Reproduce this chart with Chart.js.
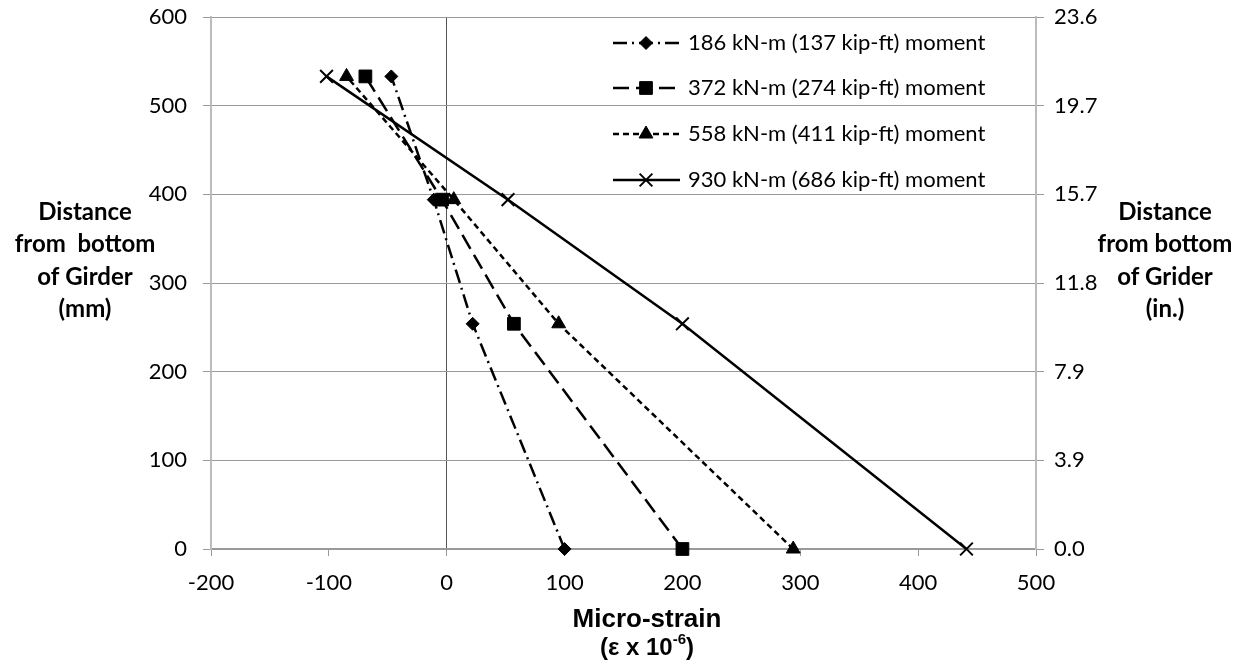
<!DOCTYPE html>
<html><head><meta charset="utf-8">
<script src="https://cdn.jsdelivr.net/npm/chart.js@4.4.0/dist/chart.umd.min.js"></script>
<style>html,body{margin:0;padding:0;background:#fff}#wrap{width:1247px;height:667px;position:relative}</style>
</head><body><div id="wrap"><canvas id="c" width="1247" height="667"></canvas></div>
<script>
// Strain profiles over the girder depth for four applied moments
const depthsMm = [0, 254, 394, 533];
const strain186 = [100, 22, -11, -47];
const strain372 = [200, 57, -4, -69];
const strain558 = [294, 95, 6, -85];
const strain930 = [441, 200, 52, -102];
const seriesLabels = ['186 kN-m (137 kip-ft) moment', '372 kN-m (274 kip-ft) moment', '558 kN-m (411 kip-ft) moment', '930 kN-m (686 kip-ft) moment'];
const inchTickLabels = ['0.0', '3.9', '7.9', '11.8', '15.7', '19.7', '23.6'];
const leftTitle = ['Distance', 'from  bottom', 'of Girder', '(mm)'];
const rightTitle = ['Distance', 'from bottom', 'of Grider', '(in.)'];
const xTitle = 'Micro-strain';

const pts = arr => arr.map((v, i) => ({x: v, y: depthsMm[i]}));
const mk = (label, arr, style, radius, dash, bw) => ({
  label, data: pts(arr), showLine: true, borderColor: '#000', backgroundColor: '#000',
  borderWidth: 2.5, borderDash: dash, pointStyle: style, pointRadius: radius,
  pointBorderWidth: bw, pointBorderColor: '#000', pointBackgroundColor: '#000', clip: false
});

const datasets = [
  mk(seriesLabels[0], strain186, 'rectRot', 6.5, [14, 5, 2, 5], 1),
  mk(seriesLabels[1], strain372, 'rect', 9, [16, 7], 1),
  mk(seriesLabels[2], strain558, 'triangle', 8, [6, 4], 1),
  mk(seriesLabels[3], strain930, 'crossRot', 9, [], 2)
];

// Legend (line sample + marker + text) and the horizontal axis titles
const decorPlugin = {
  id: 'decor',
  afterDraw(chart) {
    const ctx = chart.ctx;
    ctx.save();
    // legend
    const rowY = [43, 88, 134, 180];
    chart.data.datasets.forEach((ds, i) => {
      const y = rowY[i];
      ctx.save();
      ctx.strokeStyle = ds.borderColor;
      ctx.lineWidth = ds.borderWidth;
      ctx.setLineDash(ds.borderDash);
      ctx.beginPath(); ctx.moveTo(613, y); ctx.lineTo(680, y); ctx.stroke();
      ctx.setLineDash([]);
      ctx.fillStyle = ds.pointBackgroundColor;
      ctx.lineWidth = ds.pointBorderWidth;
      Chart.helpers.drawPoint(ctx, {pointStyle: ds.pointStyle, radius: ds.pointRadius, rotation: 0, borderWidth: ds.pointBorderWidth}, 646, y);
      ctx.restore();
      ctx.fillStyle = '#000';
      ctx.font = '22px Lato';
      ctx.textAlign = 'left'; ctx.textBaseline = 'middle';
      ctx.fillText(ds.label, 688, y);
    });
    // vertical-axis titles
    ctx.font = 'bold 24px Lato';
    ctx.textAlign = 'center'; ctx.textBaseline = 'middle';
    const ty = [212, 244, 277, 309];
    leftTitle.forEach((t, i) => ctx.fillText(t, 85, ty[i]));
    rightTitle.forEach((t, i) => ctx.fillText(t, 1165, ty[i]));
    // horizontal-axis title
    ctx.font = 'bold 26px "Liberation Sans"';
    ctx.fillText(xTitle, 647, 620);
    const a = '(\u03b5 x 10', sup = '-6', b = ')';
    ctx.font = 'bold 24px "Liberation Sans"';
    const wa = ctx.measureText(a).width, wb = ctx.measureText(b).width;
    ctx.font = 'bold 15px "Liberation Sans"';
    const ws = ctx.measureText(sup).width;
    let x0 = 647 - (wa + ws + wb) / 2;
    ctx.textAlign = 'left';
    ctx.font = 'bold 24px "Liberation Sans"';
    ctx.fillText(a, x0, 648);
    ctx.font = 'bold 15px "Liberation Sans"';
    ctx.fillText(sup, x0 + wa, 640);
    ctx.font = 'bold 24px "Liberation Sans"';
    ctx.fillText(b, x0 + wa + ws, 648);
    ctx.restore();
  }
};

const fixVertical = s => { s.width = 211; s.paddingTop = 0; s.paddingBottom = 0; };

new Chart(document.getElementById('c'), {
  type: 'scatter',
  data: {datasets},
  options: {
    responsive: false, animation: false,
    layout: {padding: {top: 17, left: 0, right: 0, bottom: 0}},
    plugins: {legend: {display: false}, tooltip: {enabled: false}},
    scales: {
      x: {type: 'linear', min: -200, max: 500,
        ticks: {stepSize: 100, color: '#000', font: {family: 'Lato', size: 22}, padding: 14},
        grid: {color: c => c.tick && c.tick.value === 0 ? '#555' : 'rgba(0,0,0,0)', tickColor: '#999', tickLength: 7},
        border: {color: '#999', width: 1.5},
        afterFit: s => { s.height = 118; s.paddingLeft = 0; s.paddingRight = 0; }
      },
      y: {type: 'linear', position: 'left', min: 0, max: 600,
        ticks: {stepSize: 100, color: '#000', font: {family: 'Lato', size: 22}, padding: 16},
        grid: {color: '#999', tickColor: '#999', tickLength: 8},
        border: {color: '#bbb', width: 2},
        afterFit: fixVertical
      },
      y2: {type: 'linear', position: 'right', min: 0, max: 600,
        ticks: {stepSize: 100, color: '#000', font: {family: 'Lato', size: 22}, padding: 10,
          callback: (v, i) => inchTickLabels[i]},
        grid: {drawOnChartArea: false, tickColor: '#999', tickLength: 8},
        border: {color: '#bbb', width: 2},
        afterFit: fixVertical
      }
    }
  },
  plugins: [decorPlugin]
});
</script></body></html>
